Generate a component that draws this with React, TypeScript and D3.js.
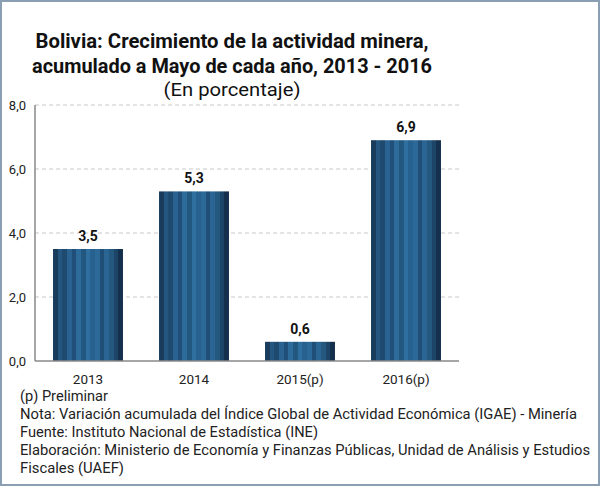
import React from "react";
import * as d3 from "d3";

const categories = ["2013", "2014", "2015(p)", "2016(p)"];
const values = [3.5, 5.3, 0.6, 6.9];
const valueLabels = ["3,5", "5,3", "0,6", "6,9"];
const yTicks = [0, 2, 4, 6, 8];
const yTickLabels = ["0,0", "2,0", "4,0", "6,0", "8,0"];
const titleLines = [
  "Bolivia: Crecimiento de la actividad minera,",
  "acumulado a Mayo de cada año, 2013 - 2016",
];
const subtitle = "(En porcentaje)";
const footerLines = [
  "(p) Preliminar",
  "Nota: Variación acumulada del Índice Global de Actividad Económica (IGAE) - Minería",
  "Fuente: Instituto Nacional de Estadística (INE)",
  "Elaboración: Ministerio de Economía y Finanzas Públicas, Unidad de Análisis y Estudios",
  "Fiscales (UAEF)",
];
const footerWidths = [88, 557, 298, 570, 104];
const stripeShades = [
  "#1a3c5c", "#24567f", "#1e4a70", "#2a6392", "#20507a", "#2d6b9b", "#22577f",
  "#2f6fa0", "#27618f", "#2c6999", "#1f4f77", "#2a6594", "#24587f", "#1d4568", "#15304c",
];

export default function App() {
  const W = 600, H = 486;
  const left = 35, right = 459, top = 105, bottom = 361;
  const x = d3.scaleBand<string>().domain(categories).range([left, right]).paddingInner(0.34).paddingOuter(0.17);
  const y = d3.scaleLinear().domain([0, 8]).range([bottom, top]);
  const n = stripeShades.length;
  const stops: React.ReactNode[] = [];
  stripeShades.forEach((c, i) => {
    stops.push(<stop key={i + "a"} offset={`${(i / n) * 100}%`} stopColor={c} />);
    stops.push(<stop key={i + "b"} offset={`${((i + 1) / n) * 100}%`} stopColor={c} />);
  });
  const font = "Roboto, 'Noto Sans', sans-serif";
  return (
    <svg width={W} height={H} style={{ position: "absolute", left: 0, top: 0 }} fontFamily={font}>
      <defs>
        <linearGradient id="stripes" x1="0" x2="1" y1="0" y2="0">{stops}</linearGradient>
      </defs>
      <rect x={0} y={0} width={W} height={H} fill="#fff" />
      <rect x={1} y={1} width={W - 2} height={H - 2} fill="none" stroke="#8aa0b2" strokeWidth={2} />
      {titleLines.map((t, i) => (
        <text key={i} x={232} y={48 + i * 25} textAnchor="middle" fontSize={20} fontWeight="bold" fill="#111"
          textLength={i === 0 ? 393 : 400} lengthAdjust="spacingAndGlyphs">{t}</text>
      ))}
      <text x={232} y={96} textAnchor="middle" fontSize={19} fill="#111" textLength={137} lengthAdjust="spacingAndGlyphs">{subtitle}</text>
      {yTicks.map((t, i) => (
        <g key={t}>
          {t > 0 && (
            <line x1={left} x2={right} y1={y(t)} y2={y(t)} stroke="#c8c8c8" strokeDasharray="4,3" strokeWidth={1} />
          )}
          <text x={26} y={y(t) + 4.5} textAnchor="end" fontSize={13} fill="#222">{yTickLabels[i]}</text>
        </g>
      ))}
      {categories.map((c, i) => (
        <g key={c}>
          <rect x={x(c)} y={y(values[i])} width={x.bandwidth()} height={y(0) - y(values[i])} fill="url(#stripes)" />
          <text x={(x(c) as number) + x.bandwidth() / 2} y={y(values[i]) - 8} textAnchor="middle" fontSize={14} fontWeight="bold" fill="#111">{valueLabels[i]}</text>
          <text x={(x(c) as number) + x.bandwidth() / 2} y={384} textAnchor="middle" fontSize={13.5} fill="#222">{c}</text>
        </g>
      ))}
      <line x1={left} x2={left} y1={top} y2={bottom} stroke="#888" strokeWidth={1.5} />
      <line x1={left} x2={right} y1={bottom} y2={bottom} stroke="#888" strokeWidth={1.5} />
      {footerLines.map((t, i) => (
        <text key={i} x={20} y={401 + i * 18} fontSize={14} fill="#222" textLength={footerWidths[i]} lengthAdjust="spacingAndGlyphs">{t}</text>
      ))}
    </svg>
  );
}
